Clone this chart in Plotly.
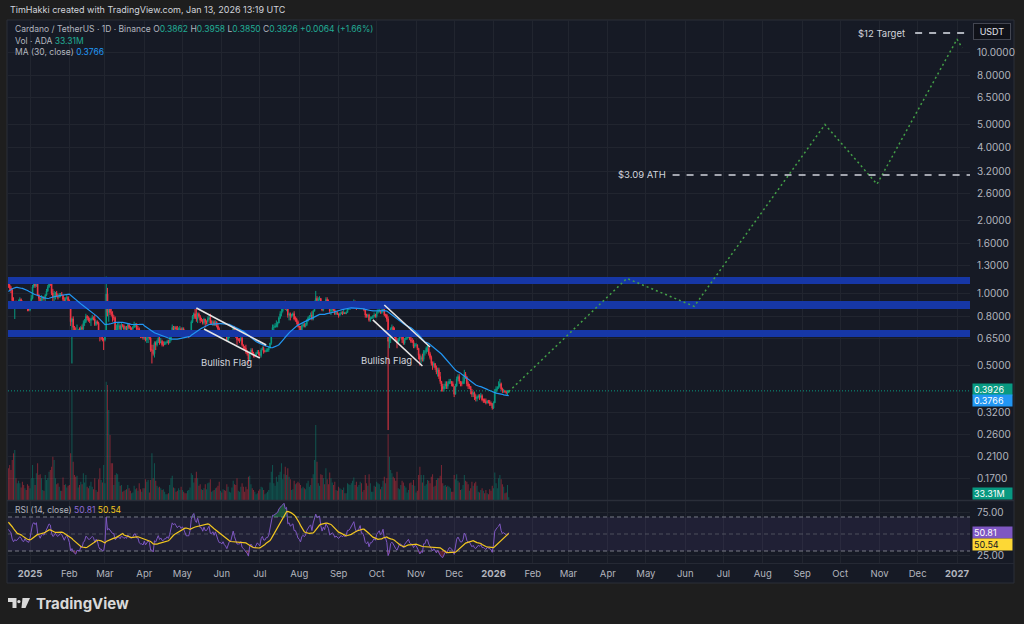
import numpy as np
import pandas as pd
import plotly.graph_objects as go

# ---------------- DATA ----------------
# closes before the visible window (only used to warm up MA(30) and RSI(14))
warmup_closes = [0.34, 0.33, 0.32, 0.32, 0.34, 0.37, 0.39, 0.41, 0.45, 0.58, 0.56, 0.55, 0.55, 0.52, 0.57,
                 0.72, 0.70, 0.78, 0.73, 0.73, 0.84, 0.88, 1.07, 0.98, 1.00, 0.93, 1.00, 0.97, 1.05, 1.10,
                 1.08, 1.13, 1.25, 1.20, 1.18, 1.23, 1.20, 1.18, 1.00, 0.98, 1.10, 1.13, 1.13, 1.10]

# daily candles: (close, high, low, volume [M ADA]); open = previous close
dec_2024 = [(1.08,1.12,1.05,380),(1.05,1.11,1.02,420),(1.03,1.07,1.00,360),(0.93,1.04,0.91,480),(0.88,0.96,0.86,560),
            (0.91,0.92,0.78,600),(0.89,0.93,0.87,260),(0.90,0.92,0.86,200),(0.92,0.94,0.87,230),(0.94,0.96,0.91,200),
            (0.92,0.95,0.91,150),(0.88,0.93,0.86,220),(0.87,0.91,0.86,180),(0.90,0.91,0.86,140),(0.87,0.90,0.86,120),
            (0.86,0.89,0.84,190),(0.85,0.89,0.84,170)]
jan_2025 = [(0.89,0.90,0.84,140),(0.95,0.98,0.89,260),(1.06,1.08,0.94,420),(1.09,1.11,1.05,260),(1.07,1.10,1.05,180),
            (1.10,1.15,1.06,320),(0.98,1.12,0.97,440),(0.95,0.99,0.91,300),(0.91,0.96,0.90,310),(0.95,0.98,0.90,260),
            (0.96,0.97,0.93,120),(0.95,0.97,0.93,110),(0.98,0.99,0.89,300),(1.02,1.04,0.97,240),(1.06,1.08,1.01,260),
            (1.10,1.13,1.05,340),(1.09,1.16,1.07,360),(1.00,1.10,0.98,400),(0.96,1.04,0.90,520),(0.97,1.02,0.90,480),
            (1.00,1.01,0.94,260),(0.97,1.02,0.96,190),(0.96,0.99,0.94,200),(0.98,1.00,0.96,160),(0.99,1.00,0.96,110),
            (0.98,1.01,0.97,110),(0.94,0.98,0.89,270),(0.92,0.96,0.91,180),(0.95,0.96,0.90,190),(0.96,0.98,0.94,150),
            (0.93,0.97,0.92,170)]
feb_2025 = [(0.89,0.94,0.88,180),(0.76,0.90,0.73,560),(0.78,0.79,0.51,1320),(0.72,0.80,0.70,460),(0.69,0.73,0.67,300),
            (0.67,0.72,0.66,280),(0.70,0.74,0.67,290),(0.70,0.71,0.68,150),(0.69,0.72,0.66,180),(0.72,0.73,0.68,220),
            (0.71,0.74,0.70,190),(0.75,0.77,0.69,320),(0.76,0.78,0.73,210),(0.80,0.82,0.75,300),(0.79,0.81,0.77,160),
            (0.77,0.80,0.76,140),(0.77,0.79,0.75,170),(0.78,0.79,0.73,220),(0.79,0.81,0.77,160),(0.78,0.80,0.77,130),
            (0.74,0.81,0.73,260),(0.76,0.77,0.73,120),(0.75,0.77,0.74,100),(0.69,0.76,0.68,250),(0.66,0.70,0.63,380),
            (0.66,0.69,0.64,240),(0.64,0.67,0.63,210),(0.64,0.65,0.58,420)]
mar_2025 = [(0.68,0.69,0.63,200),(0.99,1.17,0.66,1420),(0.83,1.05,0.80,1380),(0.86,0.88,0.76,1080),(0.83,0.89,0.81,780),
            (0.82,0.86,0.80,440),(0.79,0.84,0.76,440),(0.79,0.81,0.77,180),(0.70,0.80,0.69,300),(0.71,0.74,0.68,320),
            (0.73,0.75,0.66,310),(0.73,0.76,0.70,220),(0.71,0.74,0.70,170),(0.74,0.75,0.70,180),(0.73,0.74,0.72,100),
            (0.71,0.74,0.70,110),(0.72,0.73,0.70,120),(0.71,0.73,0.70,130),(0.74,0.75,0.70,180),(0.72,0.75,0.71,140),
            (0.71,0.73,0.70,110),(0.71,0.72,0.70,80),(0.72,0.73,0.70,90),(0.74,0.76,0.72,170),(0.74,0.75,0.72,130),
            (0.71,0.75,0.70,140),(0.71,0.73,0.70,110),(0.67,0.72,0.66,200),(0.66,0.68,0.65,130),(0.66,0.68,0.65,100),
            (0.65,0.68,0.64,140)]
apr_2025 = [(0.67,0.68,0.64,140),(0.64,0.70,0.63,250),(0.65,0.66,0.62,220),(0.66,0.67,0.62,240),(0.65,0.67,0.64,90),
            (0.58,0.66,0.57,240),(0.58,0.61,0.51,560),(0.56,0.61,0.55,260),(0.62,0.63,0.54,440),(0.61,0.63,0.58,230),
            (0.63,0.64,0.60,170),(0.65,0.66,0.62,150),(0.62,0.66,0.61,160),(0.63,0.65,0.62,140),(0.61,0.64,0.60,120),
            (0.61,0.63,0.60,130),(0.62,0.63,0.61,100),(0.62,0.63,0.61,70),(0.63,0.64,0.62,70),(0.62,0.64,0.61,80),
            (0.64,0.67,0.62,180),(0.69,0.70,0.63,260),(0.72,0.74,0.69,290),(0.71,0.73,0.69,150),(0.72,0.73,0.70,140),
            (0.71,0.73,0.70,100),(0.70,0.73,0.70,110),(0.71,0.72,0.68,140),(0.71,0.73,0.70,120),(0.70,0.72,0.67,160)]
may_2025 = [(0.71,0.72,0.69,120),(0.70,0.72,0.69,100),(0.68,0.70,0.68,80),(0.67,0.69,0.67,80),(0.67,0.68,0.66,110),
            (0.67,0.68,0.65,120),(0.69,0.70,0.66,150),(0.76,0.77,0.68,320),(0.80,0.81,0.75,300),(0.82,0.83,0.78,210),
            (0.79,0.86,0.78,260),(0.78,0.87,0.76,340),(0.82,0.83,0.75,260),(0.80,0.83,0.79,170),(0.77,0.81,0.75,190),
            (0.77,0.79,0.76,130),(0.75,0.78,0.74,120),(0.78,0.79,0.74,140),(0.76,0.78,0.72,190),(0.76,0.77,0.74,130),
            (0.78,0.80,0.74,200),(0.79,0.81,0.77,210),(0.75,0.82,0.74,250),(0.75,0.77,0.74,100),(0.76,0.77,0.73,110),
            (0.74,0.77,0.73,120),(0.76,0.77,0.73,140),(0.73,0.76,0.72,150),(0.71,0.75,0.70,170),(0.69,0.72,0.67,220),
            (0.69,0.70,0.68,110)]
jun_2025 = [(0.68,0.70,0.67,90),(0.69,0.70,0.66,130),(0.67,0.70,0.67,120),(0.66,0.68,0.66,110),(0.64,0.67,0.63,190),
            (0.66,0.67,0.63,160),(0.67,0.68,0.65,100),(0.67,0.68,0.66,90),(0.69,0.70,0.66,150),(0.72,0.73,0.69,230),
            (0.69,0.73,0.68,190),(0.66,0.70,0.65,180),(0.64,0.66,0.61,260),(0.64,0.65,0.63,110),(0.64,0.65,0.62,100),
            (0.65,0.68,0.63,160),(0.61,0.66,0.60,200),(0.60,0.61,0.58,160),(0.59,0.60,0.58,100),(0.57,0.61,0.56,160),
            (0.56,0.58,0.55,130),(0.53,0.56,0.51,280),(0.57,0.57,0.52,290),(0.58,0.59,0.56,190),(0.56,0.59,0.55,140),
            (0.55,0.57,0.54,120),(0.55,0.56,0.54,100),(0.56,0.57,0.55,70),(0.57,0.58,0.56,80),(0.56,0.58,0.55,110)]
jul_2025 = [(0.55,0.57,0.54,130),(0.58,0.59,0.54,160),(0.59,0.60,0.58,150),(0.57,0.60,0.56,120),(0.57,0.58,0.57,70),
            (0.58,0.59,0.57,80),(0.58,0.59,0.57,100),(0.59,0.60,0.57,120),(0.62,0.62,0.59,210),(0.67,0.68,0.61,340),
            (0.72,0.74,0.67,420),(0.72,0.74,0.70,200),(0.73,0.75,0.72,170),(0.74,0.77,0.72,280),(0.75,0.76,0.72,220),
            (0.79,0.80,0.75,300),(0.82,0.84,0.78,340),(0.84,0.87,0.80,440),(0.86,0.88,0.83,250),(0.89,0.91,0.86,310),
            (0.87,0.93,0.85,400),(0.89,0.90,0.84,300),(0.81,0.90,0.79,380),(0.82,0.83,0.77,280),(0.80,0.83,0.77,250),
            (0.81,0.82,0.79,120),(0.82,0.83,0.80,130),(0.78,0.84,0.77,230),(0.78,0.80,0.76,190),(0.76,0.79,0.74,200),
            (0.73,0.77,0.72,220)]
aug_2025 = [(0.72,0.73,0.70,200),(0.70,0.73,0.69,180),(0.73,0.74,0.69,140),(0.74,0.75,0.72,160),(0.73,0.75,0.72,140),
            (0.74,0.75,0.72,130),(0.77,0.78,0.73,200),(0.79,0.80,0.76,230),(0.80,0.81,0.78,160),(0.81,0.83,0.79,180),
            (0.78,0.84,0.77,260),(0.84,0.85,0.77,310),(0.91,0.93,0.84,480),(0.95,1.02,0.90,900),(0.93,0.97,0.90,460),
            (0.94,0.96,0.92,200),(0.95,0.97,0.93,170),(0.89,0.95,0.87,310),(0.85,0.90,0.84,300),(0.89,0.91,0.84,260),
            (0.87,0.90,0.86,190),(0.94,0.96,0.86,380),(0.92,0.96,0.91,250),(0.90,0.94,0.89,190),(0.84,0.91,0.82,330),
            (0.85,0.86,0.81,260),(0.86,0.87,0.83,210),(0.85,0.87,0.84,180),(0.82,0.86,0.81,220),(0.83,0.84,0.81,120),
            (0.82,0.84,0.81,110)]
sep_2025 = [(0.81,0.82,0.79,160),(0.82,0.83,0.80,140),(0.83,0.84,0.82,130),(0.82,0.84,0.81,120),(0.83,0.85,0.82,150),
            (0.82,0.83,0.82,80),(0.83,0.84,0.82,80),(0.86,0.87,0.83,200),(0.86,0.88,0.85,190),(0.87,0.88,0.85,180),
            (0.89,0.90,0.86,200),(0.90,0.91,0.88,230),(0.92,0.94,0.89,270),(0.89,0.93,0.88,180),(0.87,0.90,0.85,220),
            (0.88,0.89,0.86,160),(0.89,0.90,0.86,180),(0.91,0.92,0.88,220),(0.87,0.91,0.86,200),(0.87,0.88,0.86,100),
            (0.85,0.88,0.84,120),(0.81,0.85,0.79,300),(0.80,0.82,0.79,200),(0.81,0.82,0.79,170),(0.77,0.82,0.76,310),
            (0.79,0.80,0.76,200),(0.79,0.80,0.78,100),(0.80,0.81,0.78,100),(0.81,0.83,0.79,170),(0.80,0.82,0.79,160)]
oct_2025 = [(0.83,0.84,0.79,220),(0.84,0.86,0.82,200),(0.85,0.87,0.83,190),(0.83,0.85,0.82,130),(0.84,0.86,0.82,160),
            (0.86,0.89,0.83,230),(0.81,0.87,0.80,280),(0.81,0.82,0.79,200),(0.78,0.82,0.76,260),(0.63,0.80,0.27,790),
            (0.65,0.69,0.59,520),(0.71,0.72,0.62,360),(0.72,0.74,0.69,320),(0.70,0.73,0.66,280),(0.66,0.72,0.65,260),
            (0.64,0.68,0.63,230),(0.62,0.65,0.59,340),(0.64,0.65,0.62,140),(0.66,0.67,0.63,130),(0.66,0.69,0.65,180),
            (0.64,0.68,0.62,230),(0.62,0.66,0.61,210),(0.64,0.65,0.61,170),(0.65,0.67,0.64,150),(0.66,0.66,0.64,90),
            (0.67,0.68,0.65,120),(0.64,0.68,0.64,200),(0.63,0.66,0.62,210),(0.63,0.65,0.62,180),(0.60,0.64,0.59,240),
            (0.61,0.62,0.59,170)]
nov_2025 = [(0.61,0.62,0.60,90),(0.59,0.61,0.58,110),(0.55,0.59,0.53,300),(0.53,0.56,0.50,400),(0.54,0.55,0.51,300),
            (0.53,0.56,0.52,210),(0.57,0.58,0.52,300),(0.57,0.58,0.55,170),(0.59,0.60,0.56,190),(0.59,0.61,0.57,240),
            (0.56,0.60,0.55,230),(0.54,0.57,0.53,200),(0.51,0.55,0.50,280),(0.50,0.52,0.48,310),(0.51,0.52,0.49,160),
            (0.49,0.51,0.48,170),(0.47,0.50,0.46,240),(0.48,0.49,0.45,260),(0.45,0.49,0.44,260),(0.43,0.47,0.42,290),
            (0.41,0.43,0.39,420),(0.40,0.42,0.39,200),(0.41,0.42,0.39,170),(0.42,0.43,0.40,180),(0.41,0.43,0.40,160),
            (0.42,0.43,0.40,170),(0.43,0.44,0.42,160),(0.43,0.44,0.42,140),(0.42,0.43,0.41,100),(0.41,0.43,0.41,100)]
dec_2025 = [(0.38,0.41,0.37,300),(0.41,0.42,0.38,250),(0.44,0.45,0.41,310),(0.45,0.46,0.43,230),(0.43,0.46,0.42,210),
            (0.42,0.43,0.41,120),(0.42,0.43,0.41,130),(0.43,0.45,0.42,180),(0.46,0.48,0.42,300),(0.45,0.47,0.44,230),
            (0.42,0.45,0.41,220),(0.41,0.43,0.40,190),(0.41,0.42,0.40,110),(0.39,0.41,0.38,140),(0.38,0.40,0.37,220),
            (0.385,0.39,0.37,170),(0.37,0.39,0.36,200),(0.365,0.38,0.355,220),(0.37,0.375,0.355,170),(0.375,0.38,0.365,100),
            (0.37,0.38,0.36,90),(0.375,0.385,0.365,120),(0.36,0.38,0.355,140),(0.36,0.365,0.35,110),(0.355,0.365,0.35,80),
            (0.35,0.365,0.345,120),(0.355,0.36,0.348,80),(0.353,0.36,0.348,70),(0.348,0.36,0.34,130),(0.346,0.355,0.34,110),
            (0.333,0.35,0.328,170)]
jan_2026 = [(0.35,0.355,0.33,140),(0.39,0.40,0.35,330),(0.40,0.41,0.385,200),(0.405,0.41,0.395,140),(0.41,0.43,0.40,260),
            (0.42,0.44,0.405,300),(0.40,0.425,0.395,250),(0.39,0.405,0.385,190),(0.393,0.40,0.385,160),(0.39,0.395,0.385,80),
            (0.386,0.39,0.38,90),(0.3862,0.395,0.375,180),(0.3926,0.3958,0.3850,33.31)]

month_starts = ['2024-12-15', '2025-01-01', '2025-02-01', '2025-03-01', '2025-04-01', '2025-05-01', '2025-06-01',
                '2025-07-01', '2025-08-01', '2025-09-01', '2025-10-01', '2025-11-01', '2025-12-01', '2026-01-01']
month_rows = [dec_2024, jan_2025, feb_2025, mar_2025, apr_2025, may_2025, jun_2025,
              jul_2025, aug_2025, sep_2025, oct_2025, nov_2025, dec_2025, jan_2026]

# drawn levels / projections
band_lows = [1.09, 0.858, 0.657]
band_highs = [1.165, 0.926, 0.702]
ath_price = 3.09
target_price = 12.0
proj_dates = ['2026-01-13', '2026-04-16', '2026-06-08', '2026-09-19', '2026-10-30', '2027-01-01', '2027-01-05']
proj_prices = [0.39, 1.15, 0.88, 5.0, 2.83, 11.3, 10.4]
flag_lines = [  # (date0, price0, date1, price1)
    ('2025-05-12', 0.866, '2025-07-06', 0.608),
    ('2025-05-18', 0.709, '2025-07-01', 0.537),
    ('2025-10-07', 0.892, '2025-11-12', 0.597),
    ('2025-09-28', 0.773, '2025-11-06', 0.498),
]
flag_labels = [('2025-06-05', 0.517), ('2025-10-09', 0.527)]

price_ticks = [0.17, 0.21, 0.26, 0.32, 0.5, 0.65, 0.8, 1.0, 1.3, 1.6, 2.0, 2.6, 3.2, 4.0, 5.0, 6.5, 8.0, 10.0]
month_ticks = pd.date_range('2025-01-01', '2027-01-01', freq='MS')
month_text = [('<b>%d</b>' % d.year) if d.month == 1 else d.strftime('%b') for d in month_ticks]

# ---------------- BUILD ----------------
dates, rows = [], []
for start, m in zip(month_starts, month_rows):
    d = pd.date_range(start, periods=len(m), freq='D')
    assert d[-1].month == d[0].month, start
    dates.extend(d)
    rows.extend(m)
dates = pd.DatetimeIndex(dates)
close = np.array([r[0] for r in rows])
high = np.array([r[1] for r in rows])
low = np.array([r[2] for r in rows])
vol = np.array([r[3] for r in rows])
all_close = np.concatenate([warmup_closes, close])
nw = len(warmup_closes)
opn = all_close[nw - 1:-1]

s = pd.Series(all_close)
ma30 = s.rolling(30).mean().values[nw:]
dlt = s.diff()
gain = dlt.clip(lower=0).ewm(alpha=1 / 14, adjust=False).mean()
loss = (-dlt).clip(lower=0).ewm(alpha=1 / 14, adjust=False).mean()
rsi_s = 100 - 100 / (1 + gain / loss)
rsi_ma = rsi_s.rolling(14).mean().values[nw:]
rsi = rsi_s.values[nw:]

UP, DN = '#089981', '#f23645'
GRID = '#21252f'
TXT = '#b2b5be'
FONT = 'Inter, Roboto, sans-serif'
x0, x1 = pd.Timestamp('2024-12-14 16:00'), pd.Timestamp('2027-01-11 05:00')

W, H = 1024, 624
def X(px): return px / W
def Y(py): return 1 - py / H

fig = go.Figure()

# blue zones
for lo, hi in zip(band_lows, band_highs):
    fig.add_trace(go.Scatter(x=[x0, x1, x1, x0, x0], y=[lo, lo, hi, hi, lo], mode='lines', fill='toself',
                             fillcolor='#1637a6', line=dict(width=0), hoverinfo='skip', xaxis='x', yaxis='y'))

# volume
vcol = ['rgba(8,153,129,0.45)' if c >= o else 'rgba(242,54,69,0.45)' for c, o in zip(close, opn)]
fig.add_trace(go.Bar(x=dates, y=vol, marker=dict(color=vcol, line=dict(width=0)), xaxis='x', yaxis='y2',
                     hoverinfo='skip'))

# candles
fig.add_trace(go.Candlestick(x=dates, open=opn, high=high, low=low, close=close, xaxis='x', yaxis='y',
                             increasing=dict(line=dict(color=UP, width=1), fillcolor=UP),
                             decreasing=dict(line=dict(color=DN, width=1), fillcolor=DN),
                             whiskerwidth=0, hoverinfo='skip'))
# MA 30
fig.add_trace(go.Scatter(x=dates, y=ma30, mode='lines', line=dict(color='#2196f3', width=1.2),
                         xaxis='x', yaxis='y', hoverinfo='skip'))
# last price dotted line
fig.add_trace(go.Scatter(x=[x0, x1], y=[close[-1], close[-1]], mode='lines',
                         line=dict(color=UP, width=1, dash='1px,2px'), xaxis='x', yaxis='y', hoverinfo='skip'))
# bullish flag lines
for d0, p0, d1, p1 in flag_lines:
    fig.add_trace(go.Scatter(x=[d0, d1], y=[p0, p1], mode='lines', line=dict(color='#e6e6e6', width=1.6),
                             xaxis='x', yaxis='y', hoverinfo='skip'))
# projection
fig.add_trace(go.Scatter(x=proj_dates, y=proj_prices, mode='lines', line=dict(color='#43a047', width=1.5, dash='2px,3px'),
                         xaxis='x', yaxis='y', hoverinfo='skip'))
# ATH & target levels
fig.add_trace(go.Scatter(x=['2026-05-22', x1], y=[ath_price, ath_price], mode='lines',
                         line=dict(color='#d1d4dc', width=1.5, dash='7px,7px'), xaxis='x', yaxis='y', hoverinfo='skip'))
fig.add_trace(go.Scatter(x=['2026-11-29', x1], y=[target_price, target_price], mode='lines',
                         line=dict(color='#e0e3eb', width=1.5, dash='7px,7px'), xaxis='x', yaxis='y', hoverinfo='skip'))

# RSI pane
fig.add_trace(go.Scatter(x=[x0, x1], y=[30, 30], mode='lines', line=dict(color='#787b86', width=1, dash='4px,3px'),
                         xaxis='x2', yaxis='y3', hoverinfo='skip'))
fig.add_trace(go.Scatter(x=[x0, x1], y=[70, 70], mode='lines', line=dict(color='#787b86', width=1, dash='4px,3px'),
                         fill='tonexty', fillcolor='rgba(126,87,194,0.10)', xaxis='x2', yaxis='y3', hoverinfo='skip'))
fig.add_trace(go.Scatter(x=[x0, x1], y=[50, 50], mode='lines', line=dict(color='rgba(120,123,134,0.5)', width=1, dash='4px,3px'),
                         xaxis='x2', yaxis='y3', hoverinfo='skip'))
fig.add_trace(go.Scatter(x=dates, y=np.full(len(dates), 70.0), mode='lines', line=dict(width=0),
                         xaxis='x2', yaxis='y3', hoverinfo='skip'))
fig.add_trace(go.Scatter(x=dates, y=np.maximum(rsi, 70), mode='lines', line=dict(width=0), fill='tonexty',
                         fillcolor='rgba(38,166,91,0.40)', xaxis='x2', yaxis='y3', hoverinfo='skip'))
fig.add_trace(go.Scatter(x=dates, y=np.full(len(dates), 30.0), mode='lines', line=dict(width=0),
                         xaxis='x2', yaxis='y3', hoverinfo='skip'))
fig.add_trace(go.Scatter(x=dates, y=np.minimum(rsi, 30), mode='lines', line=dict(width=0), fill='tonexty',
                         fillcolor='rgba(242,54,69,0.30)', xaxis='x2', yaxis='y3', hoverinfo='skip'))
fig.add_trace(go.Scatter(x=dates, y=rsi, mode='lines', line=dict(color='#7e57c2', width=1),
                         xaxis='x2', yaxis='y3', hoverinfo='skip'))
fig.add_trace(go.Scatter(x=dates, y=rsi_ma, mode='lines', line=dict(color='#f2c61f', width=1.2),
                         xaxis='x2', yaxis='y3', hoverinfo='skip'))

ax_common = dict(showgrid=True, gridcolor=GRID, gridwidth=1, zeroline=False, showline=False, ticks='',
                 tickvals=list(month_ticks), range=[x0, x1], domain=[X(8), X(970)], fixedrange=True)
fig.update_layout(
    width=W, height=H, margin=dict(l=0, r=0, t=0, b=0), showlegend=False,
    paper_bgcolor='#1e1e1e', plot_bgcolor='rgba(0,0,0,0)',
    font=dict(family=FONT, color=TXT, size=9),
    xaxis=dict(**ax_common, anchor='y', showticklabels=False, rangeslider=dict(visible=False)),
    xaxis2=dict(**ax_common, anchor='y3', matches='x', ticktext=month_text, showticklabels=True,
                tickfont=dict(size=9.5, color=TXT), ticklabelstandoff=3),
    yaxis=dict(domain=[Y(500), Y(20)], type='log', range=[-0.8589, 1.1328], side='right', anchor='x',
               tickvals=price_ticks, ticktext=['%.4f' % v for v in price_ticks], showgrid=True, gridcolor=GRID,
               zeroline=False, ticks='', ticklabelstandoff=6, tickfont=dict(size=10, color=TXT), fixedrange=True),
    yaxis2=dict(overlaying='y', range=[0, 5760], visible=False, fixedrange=True),
    yaxis3=dict(domain=[Y(563), Y(501)], range=[15.9, 88.8], side='right', anchor='x2',
                tickvals=[25, 75], ticktext=['25.00', '75.00'], showgrid=True, gridcolor=GRID, zeroline=False,
                ticks='', ticklabelstandoff=6, tickfont=dict(size=10, color=TXT), fixedrange=True),
)

shapes = [
    dict(type='rect', xref='paper', yref='paper', x0=X(7), x1=X(1014), y0=Y(583), y1=Y(20),
         fillcolor='#161a25', line=dict(color='#2a2e39', width=1), layer='below'),
    dict(type='line', xref='paper', yref='paper', x0=X(7), x1=X(1014), y0=Y(500.5), y1=Y(500.5),
         line=dict(color='#2a2e39', width=1.5), layer='above'),
    dict(type='line', xref='paper', yref='paper', x0=X(7), x1=X(1014), y0=Y(563.5), y1=Y(563.5),
         line=dict(color='#252934', width=1), layer='below'),
    # TradingView logo mark
    dict(type='path', xref='paper', yref='paper', layer='above', line=dict(width=0), fillcolor='#d9d9d9',
         path='M %f %f L %f %f L %f %f L %f %f L %f %f L %f %f Z' % (
             X(8), Y(598), X(16.5), Y(598), X(16.5), Y(608), X(12.5), Y(608), X(12.5), Y(602), X(8), Y(602))),
    dict(type='circle', xref='paper', yref='paper', layer='above', line=dict(width=0), fillcolor='#d9d9d9',
         x0=X(17.2), x1=X(20.6), y0=Y(603.3), y1=Y(599.9)),
    dict(type='path', xref='paper', yref='paper', layer='above', line=dict(width=0), fillcolor='#d9d9d9',
         path='M %f %f L %f %f L %f %f L %f %f Z' % (X(22.5), Y(598), X(30), Y(598), X(25.5), Y(608), X(21.5), Y(608))),
]
fig.update_layout(shapes=shapes)

G = '#22ab94'
def sp(t, c): return '<span style="color:%s">%s</span>' % (c, t)
ann = [
    dict(x=X(8), y=Y(10), text='TimHakki created with TradingView.com, Jan 13, 2026 13:19 UTC',
         font=dict(size=9, color='#d1d4dc'), xanchor='left'),
    dict(x=X(13), y=Y(29), text='Cardano / TetherUS · 1D · Binance O' + sp('0.3862', G) + ' H' + sp('0.3958', G) +
         ' L' + sp('0.3850', G) + ' C' + sp('0.3926', G) + ' ' + sp('+0.0064 (+1.66%)', G),
         font=dict(size=8.5, color=TXT), xanchor='left'),
    dict(x=X(13), y=Y(41), text='Vol · ADA ' + sp('33.31M', G), font=dict(size=8.5, color=TXT), xanchor='left'),
    dict(x=X(13), y=Y(52), text='MA (30, close) ' + sp('0.3766', '#2196f3'), font=dict(size=8.5, color=TXT), xanchor='left'),
    dict(x=X(13), y=Y(510), text='RSI (14, close) ' + sp('50.81', '#8e6bd6') + ' ' + sp('50.54', '#f2c61f'),
         font=dict(size=8.5, color=TXT), xanchor='left'),
    dict(x=X(34), y=Y(603), text='<b>TradingView</b>', font=dict(size=15, color='#d9d9d9'), xanchor='left'),
    dict(x=X(668), y=Y(174.5), text='$3.09 ATH', font=dict(size=9.5, color='#d1d4dc'), xanchor='right'),
    dict(x=X(907), y=Y(33.5), text='$12 Target', font=dict(size=9.5, color='#d1d4dc'), xanchor='right'),
    dict(x=X(992), y=Y(31), text='USDT', font=dict(size=9, color='#e0e3eb'), xanchor='center', bgcolor='#101219',
         bordercolor='#434651', borderwidth=1, width=34, height=13),
]
for (d, p) in flag_labels:
    ann.append(dict(x=d, y=np.log10(p), xref='x', yref='y', text='Bullish Flag', font=dict(size=9.5, color='#d1d4dc'),
                    xanchor='center', yanchor='middle', showarrow=False))
boxes = [('0.3926', 389.5, UP, 'white'), ('0.3766', 400.5, '#2196f3', 'white'), ('33.31M', 493, UP, 'white'),
         ('50.81', 532.5, '#7e57c2', 'white'), ('50.54', 544.5, '#fdd835', '#131722')]
for t, py, bg, fc in boxes:
    ann.append(dict(x=X(972), y=Y(py), text=t, font=dict(size=9, color=fc), bgcolor=bg, xanchor='left',
                    align='left', width=37, height=9, borderpad=1))
for a in ann:
    a.setdefault('xref', 'paper')
    a.setdefault('yref', 'paper')
    a.setdefault('yanchor', 'middle')
    a.setdefault('showarrow', False)
fig.update_layout(annotations=ann)

fig.write_html('out.html', config=dict(displayModeBar=False, staticPlot=True),
               post_script="document.body.style.margin='0';document.body.style.overflow='hidden';")
